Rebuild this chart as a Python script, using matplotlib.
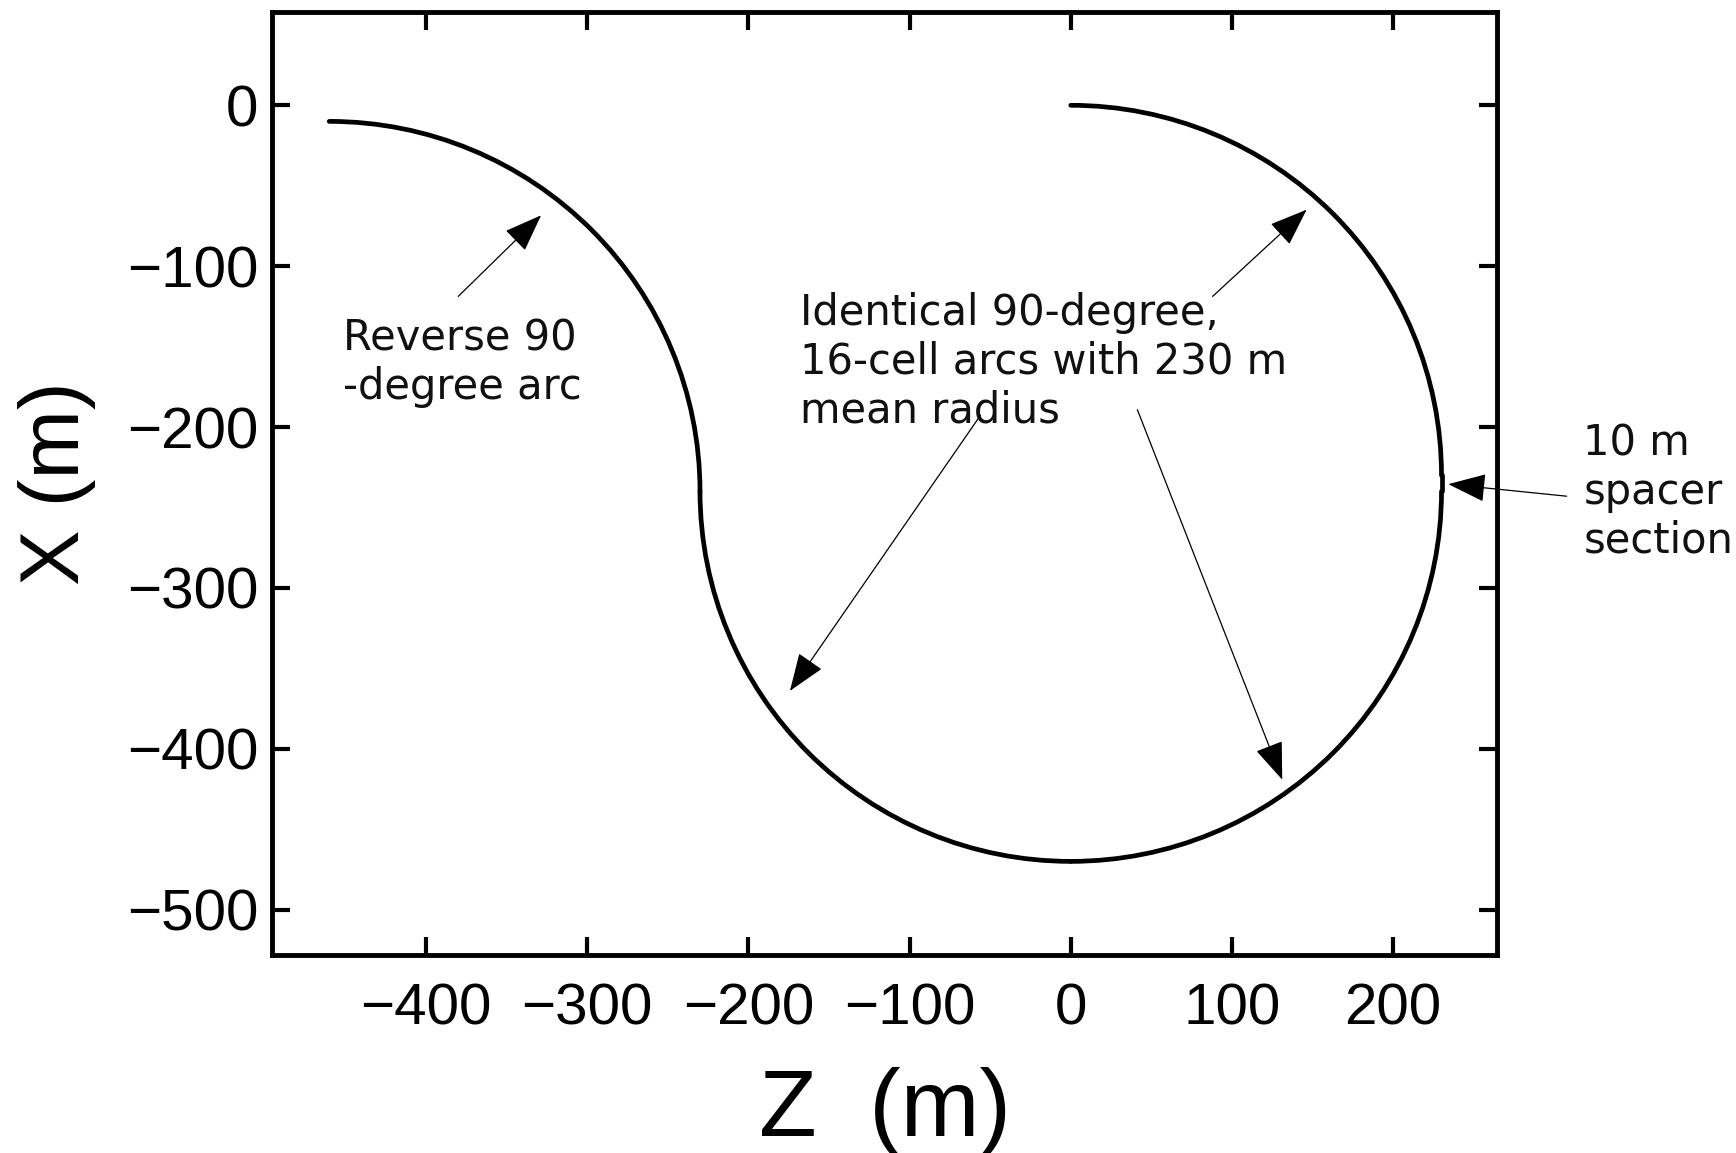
import numpy as np
import matplotlib
matplotlib.use('Agg')
import matplotlib.pyplot as plt
from matplotlib.patches import Arc
from matplotlib import font_manager

# beamline layout: 90-degree arcs (centre z, centre x, radius, start/end angle in deg)
arc_center_z = [0, 0, 0, -460]
arc_center_x = [-230, -240, -240, -240]
arc_radius = [230, 230, 230, 230]
arc_theta1 = [0, 270, 180, 0]
arc_theta2 = [90, 360, 270, 90]

# straight 10 m spacer between the first two arcs
spacer_z = [230, 230]
spacer_x = [-230, -240]

xticks = [-400, -300, -200, -100, 0, 100, 200]
yticks = [0, -100, -200, -300, -400, -500]

installed = {f.name for f in font_manager.fontManager.ttflist}
axis_font = 'Liberation Sans Narrow' if 'Liberation Sans Narrow' in installed else 'Liberation Sans'
note_font = 'DejaVu Sans Condensed' if 'DejaVu Sans Condensed' in installed else 'DejaVu Sans'
note_size = 31 if note_font == 'DejaVu Sans Condensed' else 30

fig = plt.figure(figsize=(17.36, 11.53), dpi=100)
ax = fig.add_axes([0.1567, 0.172, 0.7057, 0.8176])

for cz, cx, r, t1, t2 in zip(arc_center_z, arc_center_x, arc_radius, arc_theta1, arc_theta2):
    ax.add_patch(Arc((cz, cx), 2 * r, 2 * r, theta1=t1, theta2=t2,
                     color='black', lw=3.4, capstyle='round'))
ax.plot(spacer_z, spacer_x, color='black', lw=3.4, solid_capstyle='round')

ax.set_xlim(-495.5, 264.5)
ax.set_ylim(-528, 58)
ax.set_xticks(xticks)
ax.set_yticks(yticks)
ax.set_xticklabels([str(v).replace('-', '\u2212') for v in xticks])
ax.set_yticklabels([str(v).replace('-', '\u2212') for v in yticks])

for s in ax.spines.values():
    s.set_linewidth(3.5)
ax.tick_params(direction='in', top=True, right=True, length=13, width=3,
               labelsize=42)
ax.tick_params(axis='x', pad=20)
ax.tick_params(axis='y', pad=10)
for lab in ax.get_xticklabels() + ax.get_yticklabels():
    lab.set_family(axis_font)

ax.set_xlabel('Z  (m)', fontsize=68, family=axis_font, labelpad=22)
ax.set_ylabel('X (m)', fontsize=60, family=axis_font, labelpad=22)

arrow = dict(arrowstyle='-|>,head_length=0.8,head_width=0.3', mutation_scale=30,
             color='black', lw=0.9, shrinkA=0, shrinkB=0)
txt = dict(ha='left', va='center', fontsize=note_size, family=note_font,
           color='#111111', linespacing=1.2)

ax.annotate('', xy=(-328.6, -68.4), xytext=(-380, -118.8), arrowprops=arrow)
ax.text(-451.5, -160, 'Reverse 90\n-degree arc', **txt)

ax.text(-168, -159.5, 'Identical 90-degree,\n16-cell arcs with 230 m\nmean radius', **txt)
ax.annotate('', xy=(146.3, -64.9), xytext=(88, -118.8), arrowprops=arrow)
ax.annotate('', xy=(-174.2, -364), xytext=(-56, -192.7), arrowprops=arrow)
ax.annotate('', xy=(131.2, -419.2), xytext=(41.3, -189.2), arrowprops=arrow)

ax.annotate('', xy=(234.2, -235.5), xytext=(307.6, -243), arrowprops=arrow,
            annotation_clip=False)
ax.text(318, -240.3, '10 m\nspacer\nsection', clip_on=False, **txt)

fig.savefig('out.png', dpi=100)
